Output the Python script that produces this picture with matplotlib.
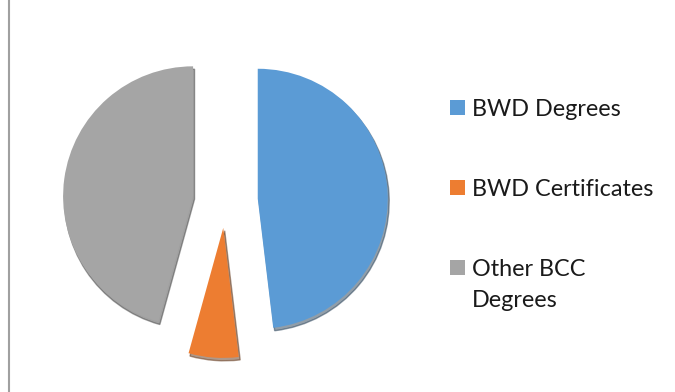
import matplotlib
matplotlib.use('Agg')
import matplotlib.pyplot as plt
from matplotlib.patches import Rectangle
from matplotlib.lines import Line2D

# Data
labels = ['BWD Degrees', 'BWD Certificates', 'Other BCC\nDegrees']
shares = [48.1, 6.2, 45.7]
colors = ['#5B9BD5', '#ED7D31', '#A5A5A5']
explode = [0.25, 0.21, 0.25]

W, H = 675, 392
fig = plt.figure(figsize=(W / 100, H / 100), dpi=100)

# pie axes covering the whole figure, 1 data unit = 130 px
r_px = 130.0
cx, cy = 225.3, 191.3
ax = fig.add_axes([0, 0, 1, 1])
ax.pie(shares, colors=colors, explode=explode, startangle=90, counterclock=False,
       radius=1.0, shadow={'ox': 0.008, 'oy': -0.016, 'shade': 0.6})
ax.set_xlim(-cx / r_px, (W - cx) / r_px)
ax.set_ylim(-cy / r_px, (H - cy) / r_px)
ax.set_aspect('equal', adjustable='datalim')
ax.axis('off')

# chart border (only the left edge is inside the picture)
fig.add_artist(Line2D([9 / W, 9 / W], [0, 1], transform=fig.transFigure,
                      color='#A0A0A0', lw=1.5))

# legend, drawn by hand so the marker sits on the first line
font = ['Lato', 'DejaVu Sans']
for i, (lab, col) in enumerate(zip(labels, colors)):
    bottom = 115 + 80 * i
    fig.add_artist(Rectangle((450 / W, 1 - bottom / H), 15 / W, 15 / H,
                             transform=fig.transFigure, facecolor=col, edgecolor='none'))
    for j, line in enumerate(lab.split('\n')):
        fig.text(472 / W, 1 - (bottom + 1 + 31 * j) / H, line, ha='left', va='baseline',
                 fontsize=16.8, family=font, color='#1a1a1a')

fig.savefig('out.png', dpi=100)
